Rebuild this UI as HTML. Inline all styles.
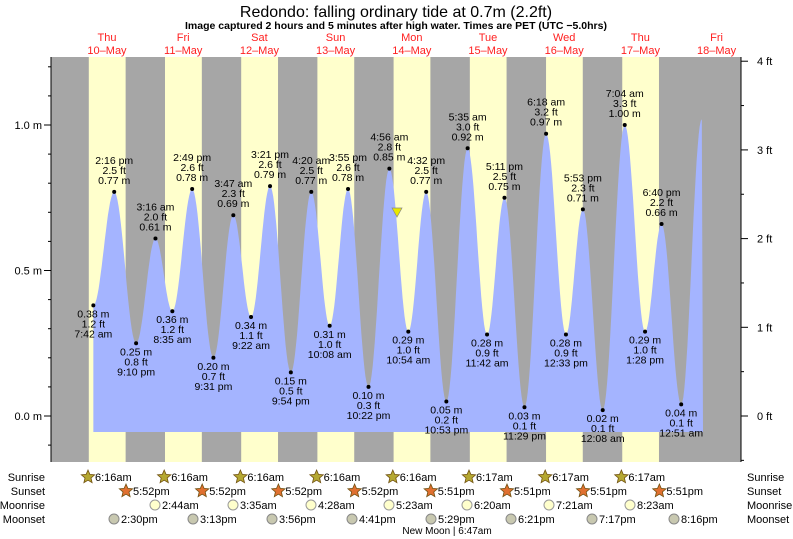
<!DOCTYPE html>
<html><head><meta charset="utf-8"><style>
body{margin:0;background:#fff;}
svg{display:block;font-family:"Liberation Sans",sans-serif;}
</style></head><body>
<svg id="s" width="793" height="539" xmlns="http://www.w3.org/2000/svg"></svg>
<script>
const s=document.getElementById('s');
let h='';
const X0=107,DW=76.2;
function xt(d,hh,mm){return X0+(d+(hh+mm/60-12)/24)*DW;}
function ym(m){return 416-m*291;}
const T=57,B=462,L=51,R=741;
h+=`<rect x="${L}" y="${T}" width="${R-L}" height="${B-T}" fill="#a6a6a6"/>`;
for(let d=0;d<8;d++){
 const sr=d<5?[6,16]:[6,17], ss=d<4?[17,52]:[17,51];
 let a=xt(d,sr[0],sr[1]),b=xt(d,ss[0],ss[1]);
 a=Math.max(a,L);b=Math.min(b,R);
 if(b>a)h+=`<rect x="${a}" y="${T}" width="${b-a}" height="${B-T}" fill="#ffffcc"/>`;
}
const P=[[0,7,42,.38],[0,14,16,.77],[0,21,10,.25],[1,3,16,.61],[1,8,35,.36],[1,14,49,.78],[1,21,31,.20],
[2,3,47,.69],[2,9,22,.34],[2,15,21,.79],[2,21,54,.15],[3,4,20,.77],[3,10,8,.31],[3,15,55,.78],[3,22,22,.10],
[4,4,56,.85],[4,10,54,.29],[4,16,32,.77],[4,22,53,.05],[5,5,35,.92],[5,11,42,.28],[5,17,11,.75],[5,23,29,.03],
[6,6,18,.97],[6,12,33,.28],[6,17,53,.71],[7,0,8,.02],[7,7,4,1.00],[7,13,28,.29],[7,18,40,.66],[8,0,51,.04],[8,7,20,1.02]];
const pts=P.map(p=>[xt(p[0],p[1],p[2]),p[3]]);
let path=`M${pts[0][0]},432 L${pts[0][0]},${ym(pts[0][1])}`;
for(let i=0;i<pts.length-1;i++){const [x1,y1]=pts[i],[x2,y2]=pts[i+1];
 for(let k=1;k<=20;k++){const t=k/20,x=x1+(x2-x1)*t;if(x>703)break;const y=y1+(y2-y1)*(1-Math.cos(Math.PI*t))/2;path+=` L${x.toFixed(1)},${ym(y).toFixed(1)}`;}}
path+=` L703,432 Z`;
h+=`<path d="${path}" fill="#a4b4ff"/>`;
function fmt(hh,mm){const ap=hh<12?'am':'pm';let h12=hh%12;if(h12==0)h12=12;return h12+':'+String(mm).padStart(2,'0')+' '+ap;}
P.slice(0,31).forEach((p,i)=>{
 const x=xt(p[0],p[1],p[2]),y=ym(p[3]);
 const high=i>0?p[3]>P[i-1][3]:false;
 h+=`<circle cx="${x}" cy="${y}" r="2" fill="#000"/>`;
 const ft=(p[3]*3.2808).toFixed(1)+' ft',m=p[3].toFixed(2)+' m',tm=fmt(p[1],p[2]);
 const L3=high?[tm,ft,m]:[m,ft,tm];
 const y0=high?y-28:y+12;
 L3.forEach((t,j)=>h+=`<text x="${x}" y="${y0+j*10}" font-size="10.5" text-anchor="middle" fill="#000">${t}</text>`);
});
h+=`<polygon points="392,208 402,208 397,217" fill="#e8e800" stroke="#888" stroke-width="0.7"/>`;
h+=`<line x1="${L}" y1="${T}" x2="${L}" y2="${B}" stroke="#000"/><line x1="${R}" y1="${T}" x2="${R}" y2="${B}" stroke="#000"/>`;
for(let v=-0.1;v<=1.25;v+=0.1){const y=ym(v);h+=`<line x1="${L-3}" y1="${y}" x2="${L}" y2="${y}" stroke="#000"/>`;}
[[0,'0.0 m'],[0.5,'0.5 m'],[1,'1.0 m']].forEach(([v,t])=>{const y=ym(v);h+=`<line x1="${L-7}" y1="${y}" x2="${L}" y2="${y}" stroke="#000"/><text x="${L-9}" y="${y+4}" font-size="11" text-anchor="end">${t}</text>`;});
for(let f=-0.5;f<=4;f+=0.5){const y=ym(f/3.2808);const maj=Math.abs(f-Math.round(f))<.01;h+=`<line x1="${R}" y1="${y}" x2="${R+(maj?7:3)}" y2="${y}" stroke="#000"/>`;if(maj&&f>=0)h+=`<text x="${R+16}" y="${y+4}" font-size="11">${f} ft</text>`;}
const days=['Thu','Fri','Sat','Sun','Mon','Tue','Wed','Thu','Fri'];
days.forEach((d,i)=>{const x=X0+i*DW;h+=`<text x="${x}" y="41" font-size="11" fill="#ff2020" text-anchor="middle">${d}</text><text x="${x}" y="54" font-size="11" fill="#ff2020" text-anchor="middle">${10+i}\u2013May</text>`;});
h+=`<text x="396" y="17" font-size="16" text-anchor="middle">Redondo: falling  ordinary tide at 0.7m (2.2ft)</text>`;
h+=`<text x="396" y="29" font-size="10.5" font-weight="bold" text-anchor="middle">Image captured 2 hours and 5 minutes after high water. Times are PET (UTC −5.0hrs)</text>`;
const rows=[['Sunrise',477],['Sunset',491],['Moonrise',505],['Moonset',519]];
rows.forEach(([t,y])=>{h+=`<text x="45" y="${y+4}" font-size="11" text-anchor="end">${t}</text><text x="747" y="${y+4}" font-size="11">${t}</text>`;});
function star(x,y,f){let pp=[];for(let k=0;k<10;k++){const r=k%2?3.2:7,a=-Math.PI/2+k*Math.PI/5;pp.push((x+r*Math.cos(a)).toFixed(1)+','+(y+r*Math.sin(a)).toFixed(1));}return `<polygon points="${pp.join(' ')}" fill="${f}" stroke="#705010" stroke-width="0.8"/>`;}
const sr=['6:16am','6:16am','6:16am','6:16am','6:16am','6:17am','6:17am','6:17am'];
sr.forEach((t,i)=>{const x=X0-19+i*DW;h+=star(x,477,'#b5a832')+`<text x="${x+7}" y="481" font-size="11">${t}</text>`;});
const ss=['5:52pm','5:52pm','5:52pm','5:52pm','5:51pm','5:51pm','5:51pm','5:51pm'];
ss.forEach((t,i)=>{const x=X0+19+i*DW;h+=star(x,491,'#e07030')+`<text x="${x+7}" y="495" font-size="11">${t}</text>`;});
const mr=[[155,'2:44am'],[233,'3:35am'],[311,'4:28am'],[389,'5:23am'],[467,'6:20am'],[549,'7:21am'],[630,'8:23am']];
mr.forEach(([x,t])=>h+=`<circle cx="${x}" cy="505" r="5" fill="#ffffcc" stroke="#999"/><text x="${x+7}" y="509" font-size="11">${t}</text>`);
const ms=[[114,'2:30pm'],[193,'3:13pm'],[272,'3:56pm'],[352,'4:41pm'],[431,'5:29pm'],[511,'6:21pm'],[592,'7:17pm'],[674,'8:16pm']];
ms.forEach(([x,t])=>h+=`<circle cx="${x}" cy="519" r="5" fill="#c8c8b0" stroke="#888"/><text x="${x+7}" y="523" font-size="11">${t}</text>`);
h+=`<text x="447" y="534" font-size="10" text-anchor="middle">New Moon | 6:47am</text>`;
s.innerHTML=h;
</script>
</body></html>
